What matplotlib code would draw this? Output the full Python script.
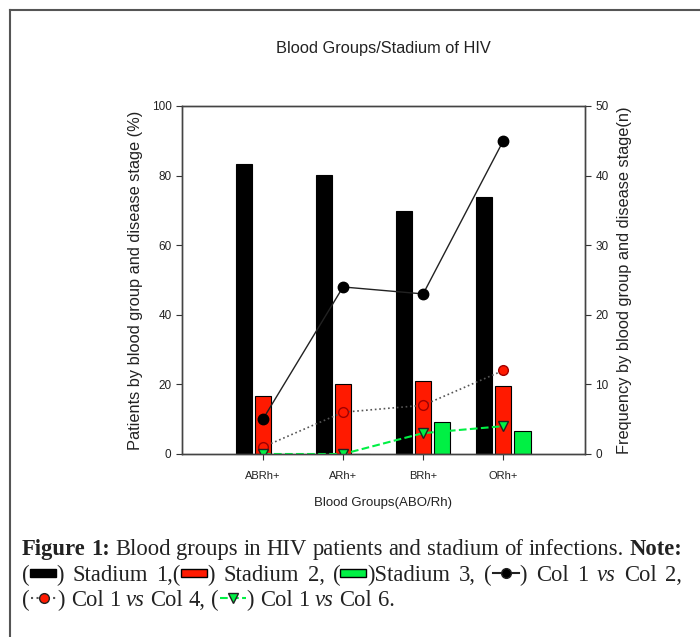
import matplotlib
matplotlib.use("Agg")
import matplotlib.pyplot as plt
from matplotlib.patches import Rectangle
from matplotlib.lines import Line2D

# Daten aus der Abbildung
groups = ["ABRh+", "ARh+", "BRh+", "ORh+"]
stadium1 = [83.3, 80.1, 69.8, 73.9]   # % linke Achse
stadium2 = [16.7, 20.0, 21.1, 19.6]
stadium3 = [0.0, 0.0, 9.1, 6.6]
col2 = [5, 24, 23, 45]                # n rechte Achse
col4 = [1, 6, 7, 12]
col6 = [0, 0, 3, 4]

BLACK = "#000000"
RED = "#ff1a00"
GREEN = "#00f044"
W, H = 700, 637

plt.rcParams["font.family"] = ["Liberation Sans", "DejaVu Sans"]
fig = plt.figure(figsize=(W / 100, H / 100), dpi=100)
ax = fig.add_axes([182 / W, 1 - 454 / H, (585 - 182) / W, (454 - 106) / H])

x = list(range(len(groups)))
bw = 0.2
off = 0.24
ax.bar([i - off for i in x], stadium1, bw, color=BLACK, edgecolor="black", lw=0.8)
ax.bar(x, stadium2, bw, color=RED, edgecolor="black", lw=0.8)
ax.bar([i + off for i in x], stadium3, bw, color=GREEN, edgecolor="black", lw=0.8)

ax.set_xlim(-1.01, 4.02)
ax.set_ylim(0, 100)
ax.set_yticks(range(0, 101, 20))
ax.set_xticks(x)
ax.set_xticklabels(groups)
ax.tick_params(labelsize=8.5, direction="out", length=4, width=0.8, colors="#333", labelcolor="#222")
ax.tick_params(axis="x", labelsize=8, pad=8)
ax.set_xlabel("Blood Groups(ABO/Rh)", fontsize=9.5, color="#222", labelpad=12)
ax.set_ylabel("Patients by blood group and disease stage (%)", fontsize=11.8, color="#222", labelpad=6)
ax.set_title("Blood Groups/Stadium of HIV", fontsize=11.8, color="#222", pad=38)
for s in ax.spines.values():
    s.set_color("#444")
    s.set_linewidth(1.0)

ax2 = ax.twinx()
ax2.plot(x, col2, "-", color="#222", lw=1, marker="o", ms=7.5, mfc=BLACK, mec=BLACK)
ax2.plot(x, col4, ":", color="#555", lw=1.2, marker="o", ms=7, mfc=RED, mec="#a00000")
ax2.plot(x, col6, "--", color=GREEN, lw=1.5, marker="v", ms=6.5, mfc=GREEN, mec="#222")
ax2.set_ylim(0, 50)
ax2.set_yticks(range(0, 51, 10))
ax2.tick_params(labelsize=8.5, direction="out", length=4, width=0.8, colors="#333", labelcolor="#222")
ax2.set_ylabel("Frequency by blood group and disease stage(n)", fontsize=11.8, color="#222", labelpad=6)
for s in ax2.spines.values():
    s.set_color("#444")
    s.set_linewidth(1.0)


def fx(px):
    return px / W


def fy(py):
    return 1 - py / H


# Rahmen oben und links
fig.add_artist(Line2D([fx(10), 1], [fy(10), fy(10)], color="#555", lw=1.5))
fig.add_artist(Line2D([fx(10), fx(10)], [fy(10), 0], color="#555", lw=1.5))

# Bildunterschrift mit Symbolen (Blocksatz fuer Zeile 1 und 2)
renderer = fig.canvas.get_renderer()
cap_font = dict(family=["Liberation Serif", "DejaVu Serif"], fontsize=16.3, color="#222")


def font_kw(kind):
    kw = dict(cap_font)
    if kind == "bold":
        kw["weight"] = "bold"
    elif kind == "italic":
        kw["style"] = "italic"
    return kw


def text_width(s, **kw):
    t1 = fig.text(0, 0, "|" + s + "|", **kw)
    t2 = fig.text(0, 0, "||", **kw)
    w = t1.get_window_extent(renderer).width - t2.get_window_extent(renderer).width
    t1.remove()
    t2.remove()
    return w


def sym_bar(cx, cy, color):
    fig.add_artist(Rectangle((fx(cx), fy(cy + 4)), 26 / W, 8 / H, facecolor=color,
                             edgecolor="black", lw=1, transform=fig.transFigure))


def sym_line(cx, cy, ls, lcolor, marker, mfc):
    fig.add_artist(Line2D([fx(cx + 1), fx(cx + 27)], [fy(cy), fy(cy)], ls=ls, color=lcolor, lw=1.5))
    fig.add_artist(Line2D([fx(cx + 14)], [fy(cy)], marker=marker, ms=7, mfc=mfc, mec="#222", ls="none"))


lines = [
    (547, True, [("Figure 1:", "bold"), (" Blood groups in HIV patients and stadium of infections. ", "normal"),
                 ("Note:", "bold")]),
    (573, True, [("(", "normal"), ("BAR", BLACK), (") Stadium 1,(", "normal"), ("BAR", RED),
                 (") Stadium 2, (", "normal"), ("BAR", GREEN), (")Stadium 3, (", "normal"),
                 ("LINE", ("-", "#222", "o", BLACK)), (") Col 1 ", "normal"), ("vs", "italic"),
                 (" Col 2,", "normal")]),
    (598, False, [("(", "normal"), ("LINE", (":", "#555", "o", RED)), (") Col 1 ", "normal"), ("vs", "italic"),
                  (" Col 4, (", "normal"), ("LINE", ("--", GREEN, "v", GREEN)), (") Col 1 ", "normal"),
                  ("vs", "italic"), (" Col 6.", "normal")]),
]

x_left, x_right = 22, 682
for ypix, justify, pieces in lines:
    # Tokens: Woerter, Leerzeichen und Symbole
    tokens = []
    for content, kind in pieces:
        if content in ("BAR", "LINE"):
            tokens.append((content, kind, 27 if content == "BAR" else 28))
        else:
            kw = font_kw(kind)
            parts = content.split(" ")
            for j, p in enumerate(parts):
                if j > 0:
                    tokens.append(("SPACE", kw, text_width(" ", **kw)))
                if p:
                    tokens.append((p, kw, text_width(p, **kw)))
    natural = sum(t[2] for t in tokens)
    n_space = sum(1 for t in tokens if t[0] == "SPACE")
    extra = (x_right - x_left - natural) / n_space if justify and n_space else 0
    xpos = x_left
    for content, kind, w in tokens:
        if content == "BAR":
            sym_bar(xpos, ypix, kind)
        elif content == "LINE":
            sym_line(xpos, ypix, *kind)
        elif content == "SPACE":
            w += extra
        else:
            fig.text(fx(xpos), fy(ypix), content, ha="left", va="center_baseline", **kind)
        xpos += w

fig.savefig("out.png", dpi=100)
